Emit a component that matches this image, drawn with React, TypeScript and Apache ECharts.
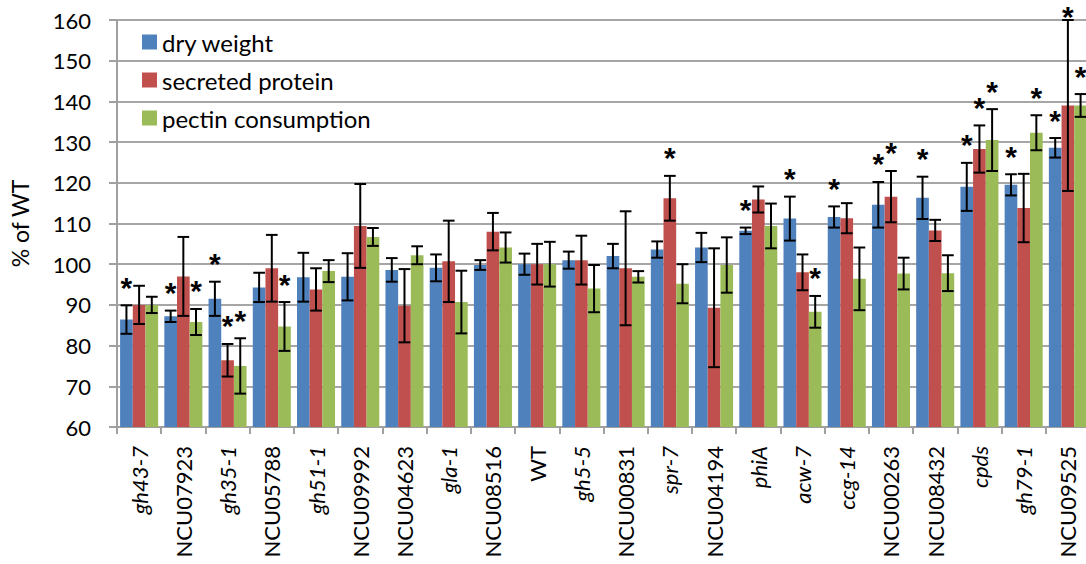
import React, { useEffect, useRef } from "react";
import * as echarts from "echarts";

const categories = [
  "gh43-7", "NCU07923", "gh35-1", "NCU05788", "gh51-1", "NCU09992", "NCU04623", "gla-1",
  "NCU08516", "WT", "gh5-5", "NCU00831", "spr-7", "NCU04194", "phiA", "acw-7", "ccg-14",
  "NCU00263", "NCU08432", "cpds", "gh79-1", "NCU09525",
];

const seriesNames = ["dry weight", "secreted protein", "pectin consumption"];

const dryWeight = [86.4, 87.2, 91.5, 94.3, 96.8, 96.9, 98.6, 99.1, 99.8, 100, 101, 102, 103.6, 104.1, 108.2, 111.2, 111.6, 114.6, 116.3, 119, 119.5, 128.6];
const dryWeightErr = [3.5, 1.4, 4.2, 3.6, 6, 5.8, 2.9, 3.3, 1.2, 2.6, 2.1, 3, 2, 3.6, 0.8, 5.4, 2.6, 5.6, 5.2, 5.9, 2.6, 2.4];

const secretedProtein = [90, 97, 76.4, 99, 93.8, 109.4, 89.8, 100.7, 108, 100, 101, 99, 116.2, 89.3, 115.9, 98, 111.3, 116.6, 108.3, 128.3, 113.8, 139];
const secretedProteinErr = [4.7, 9.7, 4, 8.2, 5.2, 10.3, 9, 10, 4.6, 5, 6, 14, 5.5, 14.6, 3.2, 4.4, 3.7, 6.3, 2.6, 5.8, 8.4, 21];

const pectinConsumption = [90, 85.8, 75, 84.7, 98.3, 106.7, 102.2, 90.7, 104.1, 100, 94, 96.9, 95.2, 99.8, 109.4, 88.3, 96.4, 97.7, 97.8, 130.5, 132.3, 139];
const pectinConsumptionErr = [2, 3.2, 6.8, 6, 2.7, 2.2, 2.2, 7.7, 3.7, 5.5, 5.8, 1.4, 4.8, 6.8, 5.5, 3.9, 7.7, 3.9, 4.4, 7.6, 4.3, 2.8];

// categories marked with an asterisk (significant difference from WT)
const sigDryWeight = ["gh43-7", "NCU07923", "gh35-1", "phiA", "acw-7", "ccg-14", "NCU00263", "NCU08432", "cpds", "gh79-1", "NCU09525"];
const sigSecretedProtein = ["gh35-1", "spr-7", "NCU00263", "cpds", "NCU09525"];
const sigPectinConsumption = ["NCU07923", "gh35-1", "NCU05788", "acw-7", "cpds", "gh79-1", "NCU09525"];

const yTicks = { min: 60, max: 160, interval: 10 };

const colors = ["#4F81BD", "#C0504D", "#9BBB59"];
const FONT = "Lato";
const CAT_GAP = 0.14;

function isItalic(name: string) {
  return !(name.startsWith("NCU") || name === "WT");
}

function errSeries(idx: number, values: number[], errs: number[], sig: string[]) {
  return {
    type: "custom",
    z: 10,
    silent: true,
    clip: false,
    encode: { x: 0, y: 1 },
    data: values.map((v, i) => [i, v, errs[i], sig.includes(categories[i]) ? 1 : 0]),
    renderItem: (params: any, api: any) => {
      const i = api.value(0);
      const v = api.value(1);
      const e = api.value(2);
      const s = api.value(3);
      const band = api.size([1, 0])[0];
      const bw = (band * (1 - CAT_GAP)) / 3;
      const cx = api.coord([i, v])[0] + (idx - 1) * bw;
      const yTop = api.coord([i, v + e])[1];
      const yBot = api.coord([i, v - e])[1];
      const half = bw / 2 - 0.5;
      const st = { stroke: "#000", lineWidth: 2 };
      const children: any[] = [
        { type: "line", shape: { x1: cx, y1: yTop, x2: cx, y2: yBot }, style: st },
        { type: "line", shape: { x1: cx - half, y1: yTop, x2: cx + half, y2: yTop }, style: st },
        { type: "line", shape: { x1: cx - half, y1: yBot, x2: cx + half, y2: yBot }, style: st },
      ];
      if (s) {
        children.push({
          type: "text",
          x: cx,
          y: Math.max(yTop - 18, 16),
          style: {
            text: "*",
            fill: "#000",
            fontSize: 30,
            fontWeight: "bold",
            fontFamily: "Liberation Sans",
            align: "center",
            verticalAlign: "middle",
          },
        });
      }
      return { type: "group", children };
    },
  };
}

export default function App() {
  const ref = useRef<HTMLDivElement>(null);
  useEffect(() => {
    if (!ref.current) return;
    const chart = echarts.init(ref.current, null, { renderer: "svg" });
    const values = [dryWeight, secretedProtein, pectinConsumption];
    const errs = [dryWeightErr, secretedProteinErr, pectinConsumptionErr];
    const sigs = [sigDryWeight, sigSecretedProtein, sigPectinConsumption];
    chart.setOption({
      animation: false,
      color: colors,
      textStyle: { fontFamily: FONT },
      grid: { left: 117, right: -4, top: 20, bottom: 137, outerBoundsMode: "none", containLabel: false },
      legend: {
        data: seriesNames,
        orient: "vertical",
        left: 137,
        top: 25,
        itemWidth: 15,
        itemHeight: 15,
        itemGap: 14,
        icon: "rect",
        selectedMode: false,
        textStyle: { fontSize: 24, color: "#000", fontFamily: FONT },
      },
      xAxis: {
        type: "category",
        data: categories,
        axisLine: { lineStyle: { color: "#A0A0A0", width: 2 } },
        axisTick: { show: true, interval: 0, length: 7, lineStyle: { color: "#A0A0A0", width: 2 } },
        axisLabel: {
          interval: 0,
          rotate: 90,
          margin: 19,
          color: "#000",
          formatter: (val: string) => (isItalic(val) ? `{i|${val}}` : `{n|${val}}`),
          rich: {
            i: { fontStyle: "italic", fontSize: 22, fontFamily: FONT, color: "#000" },
            n: { fontSize: 22, fontFamily: FONT, color: "#000" },
          },
        },
      },
      yAxis: {
        type: "value",
        min: yTicks.min,
        max: yTicks.max,
        interval: yTicks.interval,
        name: "% of WT",
        nameLocation: "middle",
        nameGap: 86,
        nameTextStyle: { fontSize: 23, color: "#000", fontFamily: FONT },
        axisLine: { show: true, lineStyle: { color: "#A0A0A0", width: 2 } },
        axisTick: { show: true, length: 8, lineStyle: { color: "#A0A0A0", width: 2 } },
        axisLabel: { fontSize: 22, color: "#000", margin: 26, fontFamily: FONT },
        splitLine: { lineStyle: { color: "#A6A6A6", width: 2 } },
      },
      series: [
        ...seriesNames.map((n, k) => ({
          type: "bar",
          name: n,
          data: values[k],
          barGap: "0%",
          barCategoryGap: `${CAT_GAP * 100}%`,
          itemStyle: { color: colors[k] },
        })),
        ...values.map((v, k) => errSeries(k, v, errs[k], sigs[k])),
      ],
    });
    return () => chart.dispose();
  }, []);
  return (
    <div
      ref={ref}
      style={{ position: "fixed", left: 0, top: 0, width: 1086, height: 564, background: "#fff" }}
    />
  );
}
